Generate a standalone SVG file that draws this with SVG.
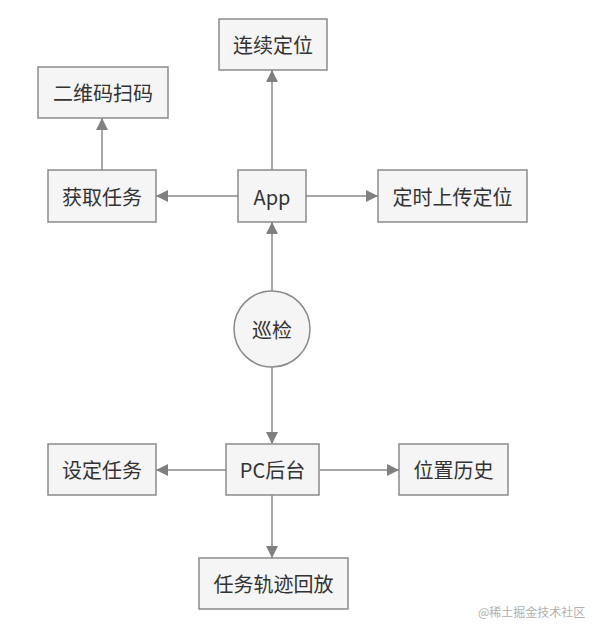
<svg xmlns="http://www.w3.org/2000/svg" width="594" height="627" viewBox="0 0 594 627">
<style>
.box{fill:#f5f5f5;stroke:#8a8a8a;stroke-width:1.5}
.t{font-family:"Noto Sans CJK SC","Noto Sans",sans-serif;font-size:20px;fill:#333;text-anchor:middle;dominant-baseline:central}
.c{stroke:#8a8a8a;stroke-width:1.5;fill:none;marker-end:url(#ah)}
.wm{font-family:"Noto Sans CJK SC",serif;font-size:12px;fill:#b0b0b0}
</style>
<defs>
<marker id="ah" markerWidth="12" markerHeight="12" refX="12" refY="6" orient="auto" markerUnits="userSpaceOnUse">
<path d="M0,0 L12,6 L0,12 Z" fill="#808080"/>
</marker>
</defs>
<rect width="594" height="627" fill="#ffffff"/>
<g id="connectors">
<line class="c" x1="272" y1="170" x2="272" y2="70"/>
<line class="c" x1="102" y1="170" x2="102" y2="118"/>
<line class="c" x1="238" y1="196" x2="156" y2="196"/>
<line class="c" x1="306" y1="196" x2="378" y2="196"/>
<line class="c" x1="272" y1="291" x2="272" y2="222"/>
<line class="c" x1="272" y1="367" x2="272" y2="444"/>
<line class="c" x1="227" y1="470" x2="156" y2="470"/>
<line class="c" x1="320" y1="470" x2="399" y2="470"/>
<line class="c" x1="272" y1="495" x2="272" y2="558"/>
</g>
<g id="n-lianxu"><rect class="box" x="219" y="19" width="108" height="51"/><text class="t" x="273" y="44.5">连续定位</text></g>
<g id="n-erweima"><rect class="box" x="38" y="67" width="130" height="51"/><text class="t" x="103" y="92.5">二维码扫码</text></g>
<g id="n-huoqu"><rect class="box" x="48" y="170" width="108" height="52"/><text class="t" x="102" y="196">获取任务</text></g>
<g id="n-app"><rect class="box" x="238" y="170" width="68" height="52"/><text class="t" x="272" y="196">App</text></g>
<g id="n-dingshi"><rect class="box" x="378" y="170" width="149" height="52"/><text class="t" x="452.5" y="196">定时上传定位</text></g>
<g id="n-xunjian"><circle cx="272" cy="329" r="38" fill="#f5f5f5" stroke="#8a8a8a" stroke-width="1.5"/><text class="t" x="272" y="329">巡检</text></g>
<g id="n-shedingrenwu"><rect class="box" x="48" y="444" width="108" height="51"/><text class="t" x="102" y="469.5">设定任务</text></g>
<g id="n-pc"><rect class="box" x="226" y="444" width="93" height="51"/><text class="t" x="272.5" y="469.5">PC后台</text></g>
<g id="n-weizhi"><rect class="box" x="399" y="444" width="109" height="51"/><text class="t" x="453.5" y="469.5">位置历史</text></g>
<g id="n-guiji"><rect class="box" x="199" y="558" width="149" height="51"/><text class="t" x="273.5" y="583.5">任务轨迹回放</text></g>
<text class="wm" x="478" y="617">@稀土掘金技术社区</text>
</svg>
